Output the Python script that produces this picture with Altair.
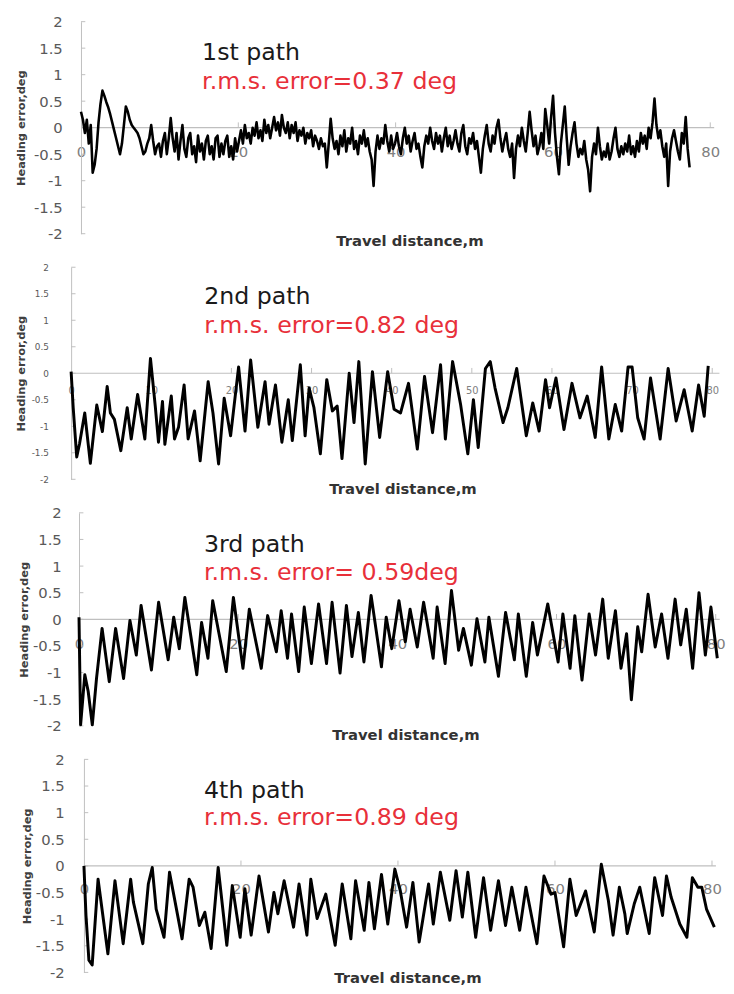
import altair as alt
import pandas as pd

# ---------------- data ----------------
# 1st path: dense noisy record, sampled every P1_STEP metres
P1_STEP = 0.248
P1_Y = [
    0.30, 0.15, -0.10, 0.15, -0.30, 0.05, -0.85, -0.70, -0.40, 0.10,
    0.45, 0.70, 0.60, 0.48, 0.38, 0.25, 0.10, -0.05, -0.20, -0.35,
    -0.50, -0.30, 0.05, 0.40, 0.30, 0.15, 0.05, 0.00, -0.05, -0.10,
    -0.20, -0.35, -0.50, -0.45, -0.30, -0.20, 0.05, -0.25, -0.50, -0.35,
    -0.30, -0.55, -0.25, -0.10, -0.50, -0.20, 0.18, -0.20, -0.45, -0.10,
    -0.60, -0.25, 0.05, -0.40, -0.55, -0.20, -0.10, -0.50, -0.35, -0.65,
    -0.15, -0.45, -0.30, -0.60, -0.25, -0.15, -0.50, -0.35, -0.60, -0.20,
    -0.15, -0.55, -0.30, -0.50, -0.25, -0.15, -0.55, -0.35, -0.60, -0.20,
    -0.45, -0.25, -0.05, -0.30, 0.05, -0.20, -0.10, -0.30, 0.00, -0.15,
    0.10, -0.20, -0.05, -0.25, 0.15, -0.10, 0.05, -0.20, 0.00, 0.20,
    -0.05, 0.10, -0.15, 0.24, 0.00, -0.10, 0.10, -0.20, 0.05, -0.10,
    0.10, -0.25, -0.05, -0.15, 0.00, -0.30, -0.10, -0.20, -0.05, -0.35,
    -0.15, -0.25, -0.40, -0.20, -0.35, -0.30, -0.75, -0.30, 0.17, -0.20,
    -0.40, -0.25, -0.50, -0.15, -0.35, -0.05, -0.45, -0.20, -0.30, 0.00,
    -0.40, -0.25, -0.50, -0.15, -0.30, -0.05, -0.35, -0.20, -0.45, -0.60,
    -1.10, -0.45, -0.15, -0.40, -0.20, -0.30, 0.05, -0.25, -0.45, -0.15,
    -0.40, -0.30, -0.10, -0.35, -0.50, -0.20, 0.00, -0.30, -0.15, -0.45,
    -0.25, -0.10, -0.40, -0.30, -0.55, -0.75, -0.35, -0.15, -0.30, 0.00,
    -0.25, -0.40, -0.10, -0.30, -0.15, -0.45, -0.20, 0.00, -0.35, -0.15,
    -0.40, -0.25, -0.05, -0.30, -0.45, -0.10, 0.05, -0.35, -0.50, -0.20,
    -0.30, -0.10, -0.40, -0.25, -0.55, -0.85, -0.40, -0.15, 0.05, -0.30,
    -0.45, -0.15, -0.30, 0.00, 0.15, -0.20, -0.45, -0.25, -0.10, -0.40,
    -0.55, -0.30, -0.95, -0.40, -0.15, -0.35, 0.00, -0.25, -0.45, -0.10,
    0.30, -0.05, -0.35, -0.15, -0.50, -0.35, -0.10, -0.40, 0.35, 0.05,
    -0.30, 0.20, 0.60, -0.10, -0.55, -0.88, -0.30, 0.05, 0.40, -0.20,
    -0.70, -0.35, -0.10, 0.10, -0.30, -0.55, -0.40, -0.50, -0.25, -0.60,
    -0.80, -1.20, -0.55, -0.30, -0.50, 0.00, -0.35, -0.60, -0.45, -0.55,
    -0.30, -0.60, -0.45, -0.20, 0.00, -0.40, -0.55, -0.35, -0.50, -0.30,
    -0.45, -0.15, -0.50, -0.35, -0.55, -0.25, -0.45, -0.10, -0.30, -0.15,
    -0.40, 0.00, -0.20, 0.10, 0.55, 0.05, -0.20, -0.05, -0.35, -0.55,
    -0.30, -1.10, -0.45, -0.20, -0.05, -0.25, -0.45, -0.60, -0.10, -0.30,
    0.20, -0.40, -0.75,
]
P1_X = [round(i * P1_STEP, 3) for i in range(len(P1_Y))]

# 2nd path
P2_X = [
    0.0, 0.26, 0.7, 1.05, 1.7, 2.4, 3.2, 3.9, 4.5, 4.9,
    5.4, 6.2, 7.0, 7.5, 8.3, 9.2, 9.9, 10.5, 10.9, 11.4,
    11.7, 12.5, 12.9, 13.4, 14.1, 14.6, 15.4, 16.1, 17.1, 17.7,
    18.4, 19.1, 19.9, 20.9, 21.7, 22.4, 23.3, 24.2, 24.7, 25.5,
    26.3, 27.1, 27.6, 28.6, 29.2, 29.7, 30.3, 31.1, 31.9, 32.6,
    33.2, 33.8, 34.7, 35.3, 35.9, 36.7, 37.6, 38.5, 39.5, 40.3,
    41.1, 42.1, 43.2, 44.1, 45.1, 46.1, 46.7, 47.6, 48.6, 49.5,
    50.2, 50.8, 51.7, 52.3, 52.9, 53.9, 54.5, 55.6, 56.8, 57.6,
    58.4, 59.2, 59.7, 60.5, 61.5, 62.5, 63.5, 64.4, 65.4, 66.2,
    67.1, 67.9, 68.7, 69.5, 70.0, 70.7, 71.5, 72.3, 73.5, 74.5,
    75.5, 76.5, 77.5, 78.3, 79.0, 79.5,
]
P2_Y = [
    0.03, -0.65, -1.58, -1.33, -0.75, -1.70, -0.60, -1.10, -0.25, -0.75,
    -0.87, -1.46, -0.65, -1.24, -0.40, -1.24, 0.28, -0.62, -1.30, -0.53,
    -1.34, -0.43, -1.24, -1.02, -0.22, -1.24, -0.71, -1.65, -0.16, -0.75,
    -1.71, -0.47, -1.18, 0.12, -1.09, 0.25, -1.02, -0.16, -0.96, -0.22,
    -1.30, -0.50, -1.27, 0.16, -1.18, -0.28, -0.65, -1.52, -0.12, -0.71,
    -0.62, -1.61, 0.00, -0.93, 0.22, -1.71, 0.03, -1.21, 0.03, -0.68,
    -0.75, -0.19, -1.43, -0.06, -1.12, 0.16, -1.24, 0.22, -0.59, -1.52,
    -0.50, -1.40, 0.09, 0.22, -0.28, -0.93, -0.65, 0.09, -1.18, -0.56,
    -1.09, -0.12, -0.65, -0.09, -1.06, -0.19, -0.84, -0.43, -1.21, 0.12,
    -1.24, -0.59, -1.09, 0.12, 0.12, -0.84, -1.24, -0.09, -1.24, 0.09,
    -0.90, -0.31, -1.09, -0.22, -0.81, 0.14,
]

# 3rd path
P3_X = [
    0.0, 0.2, 0.73, 1.15, 1.67, 2.2, 2.9, 3.8, 4.6, 5.6,
    6.4, 7.2, 7.8, 9.1, 10.0, 11.2, 11.9, 12.6, 13.3, 14.8,
    15.4, 16.2, 16.8, 18.5, 19.4, 20.6, 21.4, 22.9, 23.7, 24.8,
    25.4, 26.2, 26.7, 27.6, 28.3, 29.2, 30.1, 31.1, 31.8, 32.8,
    33.6, 34.3, 35.1, 35.8, 36.7, 38.0, 38.6, 39.3, 40.2, 41.0,
    41.6, 42.5, 43.3, 44.5, 45.0, 46.0, 46.8, 47.7, 48.3, 49.3,
    50.0, 51.0, 51.5, 52.7, 53.6, 54.7, 55.2, 56.2, 57.0, 57.6,
    58.9, 60.2, 60.8, 61.7, 62.3, 63.2, 64.1, 64.9, 65.8, 66.5,
    67.4, 68.1, 68.8, 69.4, 70.2, 70.7, 71.5, 72.4, 73.2, 74.0,
    74.9, 75.6, 76.3, 77.1, 77.9, 78.7, 79.4, 80.2,
]
P3_Y = [
    0.04, -1.98, -1.04, -1.35, -1.98, -1.11, -0.17, -1.17, -0.17, -1.11,
    -0.02, -0.67, 0.26, -0.95, 0.32, -0.76, 0.04, -0.55, 0.41, -1.04,
    -0.06, -0.73, 0.35, -0.98, 0.41, -0.92, 0.19, -0.92, 0.07, -0.61,
    0.16, -0.73, 0.10, -0.98, 0.23, -0.83, 0.29, -0.83, 0.32, -1.01,
    0.26, -0.70, 0.13, -0.80, 0.45, -0.89, 0.04, -0.55, 0.35, -0.42,
    0.19, -0.52, 0.32, -0.73, 0.23, -0.83, 0.54, -0.58, -0.17, -0.86,
    0.01, -0.80, 0.04, -1.07, 0.13, -0.76, 0.10, -1.07, -0.06, -0.67,
    0.29, -0.80, 0.10, -0.92, 0.07, -1.14, 0.10, -0.67, 0.38, -0.73,
    0.16, -0.92, -0.27, -1.51, -0.14, -0.61, 0.47, -0.52, 0.10, -0.73,
    0.38, -0.48, 0.19, -0.92, 0.50, -0.67, 0.23, -0.73,
]

# 4th path
P4_X = [
    0.0, 0.26, 0.63, 1.05, 1.8, 3.05, 3.95, 5.0, 5.95, 6.3,
    7.5, 8.2, 8.7, 9.2, 10.2, 10.9, 12.5, 13.4, 13.9, 14.7,
    15.4, 16.2, 17.1, 18.2, 18.9, 19.9, 20.5, 21.3, 22.3, 23.5,
    24.2, 24.7, 25.5, 26.7, 27.4, 28.4, 28.9, 29.7, 30.8, 32.0,
    32.9, 34.0, 34.6, 35.7, 36.3, 37.0, 37.9, 38.7, 39.6, 40.3,
    41.1, 41.9, 42.7, 43.9, 44.5, 45.4, 46.6, 47.4, 48.2, 48.9,
    49.9, 50.9, 51.8, 52.8, 53.7, 54.5, 55.5, 56.3, 57.7, 58.6,
    59.5, 60.0, 61.1, 61.9, 62.7, 63.9, 65.0, 65.9, 66.8, 67.4,
    68.2, 68.9, 69.2, 70.1, 70.8, 72.0, 72.7, 73.7, 74.2, 74.8,
    75.9, 76.8, 77.5, 78.2, 78.7, 79.3, 80.3,
]
P4_Y = [
    0.00, -0.93, -1.77, -1.86, -0.25, -1.65, -0.28, -1.46, -0.25, -0.68,
    -1.46, -0.34, -0.03, -0.81, -1.34, -0.12, -1.37, -0.25, -0.40, -1.12,
    -0.87, -1.55, -0.03, -1.49, -0.37, -1.34, -0.43, -1.30, -0.19, -1.24,
    -0.50, -0.90, -0.28, -1.15, -0.34, -1.30, -0.25, -0.99, -0.53, -1.49,
    -0.34, -1.37, -0.28, -1.21, -0.31, -1.18, -0.16, -1.09, -0.06, -0.47,
    -1.15, -0.31, -1.43, -0.34, -1.09, -0.12, -1.02, -0.09, -0.96, -0.12,
    -1.34, -0.22, -1.21, -0.28, -1.12, -0.40, -1.21, -0.40, -1.46, -0.19,
    -0.53, -0.50, -1.52, -0.25, -0.93, -0.47, -1.24, 0.03, -0.65, -1.30,
    -0.40, -0.90, -1.27, -0.71, -0.40, -1.27, -0.22, -0.93, -0.19, -0.59,
    -1.09, -1.34, -0.22, -0.40, -0.40, -0.81, -1.15,
]

PATH_NAMES = ["1st path", "2nd path", "3rd path", "4th path"]
RMS_TEXT = ["r.m.s. error=0.37 deg", "r.m.s. error=0.82 deg",
            "r.m.s. error= 0.59deg", "r.m.s. error=0.89 deg"]
Y_TICKS = [-2, -1.5, -1, -0.5, 0, 0.5, 1, 1.5, 2]
X_TICKS_20 = [0, 20, 40, 60, 80]
X_TICKS_10 = [0, 10, 20, 30, 40, 50, 60, 70, 80]
X_TITLE = "Travel distance,m"
Y_TITLE = "Heading error,deg"

# ---------------- styling / layout ----------------
FONT = "DejaVu Sans"
GREY = "#bfbfbf"
RED = "#e8303a"
W = 658

STYLE = [
    dict(dom=[-1.254, 81.25], h=215, yoff=10, yfs=15, ypad=19, xfs=15, xpad=17,
         ytx=-60, tx=343, ty=114.5, ann_x=15.4, ann_y=(1.40, 0.86), lw=2.6,
         xt=X_TICKS_20, zend=80.5),
    dict(dom=[0, 80.98], h=215, yoff=0, yfs=9, ypad=23, xfs=10, xpad=13,
         ytx=-50, tx=336, ty=116.5, ann_x=16.6, ann_y=(1.43, 0.89), lw=3.0,
         xt=X_TICKS_10, zend=80.9),
    dict(dom=[-0.991, 80.55], h=216, yoff=8, yfs=15, ypad=18, xfs=15, xpad=18,
         ytx=-55, tx=339, ty=117, ann_x=15.7, ann_y=(1.40, 0.86), lw=3.0,
         xt=X_TICKS_20, zend=80.5),
    dict(dom=[-1.633, 81.03], h=216, yoff=13, yfs=15, ypad=20, xfs=15, xpad=16,
         ytx=-57, tx=341, ty=113, ann_x=15.3, ann_y=(1.40, 0.90), lw=3.0,
         xt=X_TICKS_20, zend=80.5),
]


def panel(xs, ys, name, rms, s):
    xscale = alt.Scale(domain=s["dom"], nice=False, zero=False)
    yscale = alt.Scale(domain=[-2, 2], nice=False, zero=False)
    xaxis = alt.Axis(
        values=s["xt"], domain=False, ticks=False, tickSize=0, grid=False,
        labelFont=FONT, labelFontSize=s["xfs"], labelColor="#808080",
        labelPadding=s["xpad"], labelFlush=False, labelExpr="'' + datum.value",
        offset=-s["h"] / 2,
        title=X_TITLE, titleFont=FONT, titleFontSize=15, titleFontWeight="bold",
        titleColor="#333333", titleX=s["tx"], titleY=s["ty"],
        titleAlign="center", titleBaseline="middle",
    )
    yaxis = alt.Axis(
        values=Y_TICKS, domain=True, domainColor=GREY, domainWidth=1,
        ticks=False, tickSize=0, grid=False,
        labelFont=FONT, labelFontSize=s["yfs"], labelColor="#595959",
        labelPadding=s["ypad"], labelExpr="'' + datum.value", labelOverlap=False,
        offset=-s["yoff"],
        title=Y_TITLE, titleFont=FONT, titleFontSize=11.5, titleFontWeight="bold",
        titleColor="#404040", titleX=s["ytx"], titleY=s["h"] / 2,
        titleAlign="center", titleBaseline="middle", titleAngle=270,
    )

    def X():
        return alt.X("x:Q", scale=xscale, axis=xaxis)

    def Y():
        return alt.Y("y:Q", scale=yscale, axis=yaxis)

    zero = alt.Chart(pd.DataFrame({"x": [0], "x2": [s["zend"]], "y": [0]})).mark_rule(
        color=GREY, strokeWidth=1.2
    ).encode(x=X(), x2="x2:Q", y=Y())

    xt = [v for v in s["xt"] if v != 0]
    xticks = alt.Chart(pd.DataFrame({"x": xt, "y": [0] * len(xt), "y2": [0.1] * len(xt)})).mark_rule(
        color=GREY, strokeWidth=1
    ).encode(x=X(), y=Y(), y2="y2:Q")

    yticks = alt.Chart(pd.DataFrame({"x": [0] * len(Y_TICKS), "x2": [0.55] * len(Y_TICKS), "y": Y_TICKS})).mark_rule(
        color=GREY, strokeWidth=1
    ).encode(x=X(), x2="x2:Q", y=Y())

    line = alt.Chart(pd.DataFrame({"x": xs, "y": ys})).mark_line(
        color="black", strokeWidth=s["lw"], strokeJoin="round"
    ).encode(x=X(), y=Y())

    ann = alt.Chart(pd.DataFrame({
        "x": [s["ann_x"], s["ann_x"]],
        "y": list(s["ann_y"]),
        "label": [name, rms],
        "c": ["#1a1a1a", RED],
    })).mark_text(align="left", baseline="middle", font=FONT, fontSize=24).encode(
        x=X(), y=Y(), text="label:N", color=alt.Color("c:N", scale=None)
    )

    return alt.layer(zero, xticks, yticks, line, ann).properties(width=W, height=s["h"])


series = [(P1_X, P1_Y), (P2_X, P2_Y), (P3_X, P3_Y), (P4_X, P4_Y)]
panels = [panel(xs, ys, PATH_NAMES[i], RMS_TEXT[i], STYLE[i]) for i, (xs, ys) in enumerate(series)]

chart = alt.vconcat(*panels, spacing=34, bounds="flush").properties(
    padding={"left": 8, "top": 0, "right": 0, "bottom": 0},
    background="white",
).configure_view(stroke=None)

chart.save("out.html", embed_options={"renderer": "svg", "actions": False})
